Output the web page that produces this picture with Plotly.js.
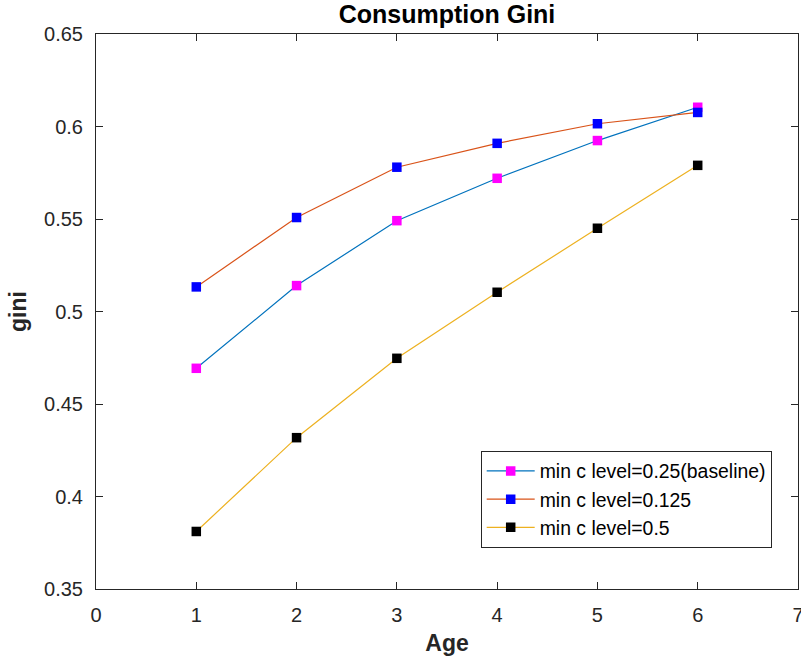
<!DOCTYPE html>
<html>
<head>
<meta charset="utf-8">
<script src="https://cdn.plot.ly/plotly-3.0.1.min.js"></script>
<style>
  html, body { margin: 0; padding: 0; background: #ffffff; }
  #chart { width: 801px; height: 663px; }
</style>
</head>
<body>
<div id="chart"></div>
<script>
// ages on the x axis
const ages = [1, 2, 3, 4, 5, 6];

// gini by age for each min consumption level
const giniBaseline = [0.4693, 0.5140, 0.5491, 0.5720, 0.5924, 0.6104];
const gini0125 = [0.5133, 0.5508, 0.5780, 0.5909, 0.6015, 0.6076];
const gini05 = [0.3811, 0.4318, 0.4747, 0.5104, 0.5450, 0.5790];

const seriesNames = ['min c level=0.25(baseline)', 'min c level=0.125', 'min c level=0.5'];

// tick labels
const xTicks = [0, 1, 2, 3, 4, 5, 6, 7];
const yTicks = [0.35, 0.4, 0.45, 0.5, 0.55, 0.6, 0.65];
const yTickText = ['0.35', '0.4', '0.45', '0.5', '0.55', '0.6', '0.65'];

const fontFamily = '"Liberation Sans", Arial, Helvetica, sans-serif';
const axisColor = '#262626';

function makeTrace(y, name, lineColor, markerColor) {
    return {
        x: ages,
        y: y,
        name: name,
        type: 'scatter',
        mode: 'lines+markers',
        line: { color: lineColor, width: 1.2 },
        marker: { symbol: 'square', size: 9.5, color: markerColor, line: { width: 0 } }
    };
}

const traces = [
    makeTrace(giniBaseline, seriesNames[0], '#0072BD', '#FF00FF'),
    makeTrace(gini0125, seriesNames[1], '#D95319', '#0000FF'),
    makeTrace(gini05, seriesNames[2], '#EDB120', '#000000')
];

const axisCommon = {
    showgrid: false,
    zeroline: false,
    showline: true,
    linecolor: axisColor,
    linewidth: 1,
    mirror: 'ticks',
    ticks: 'inside',
    ticklen: 7,
    tickwidth: 1,
    tickcolor: axisColor,
    ticklabeloverflow: 'allow',  // the "7" runs off the right edge, as in the original
    tickfont: { family: fontFamily, size: 20, color: axisColor }
};

const layout = {
    width: 801,
    height: 663,
    paper_bgcolor: '#ffffff',
    plot_bgcolor: '#ffffff',
    margin: { l: 96, r: 3, t: 34, b: 74 },
    font: { family: fontFamily, color: axisColor },
    title: {
        text: '<b>Consumption Gini</b>',
        font: { family: fontFamily, size: 25, color: '#000000' },
        x: 0.5,
        xanchor: 'center',
        xref: 'paper',
        y: 1 - 14 / 663,
        yanchor: 'middle',
        yref: 'container'
    },
    xaxis: Object.assign({}, axisCommon, {
        range: [0, 7],
        tickvals: xTicks,
        ticklabelstandoff: 8,
        title: { text: '<b>Age</b>', font: { family: fontFamily, size: 23, color: axisColor }, standoff: 9 }
    }),
    yaxis: Object.assign({}, axisCommon, {
        range: [0.35, 0.65],
        tickvals: yTicks,
        ticktext: yTickText,
        ticklabelstandoff: 8,
        title: { text: '<b>gini</b>', font: { family: fontFamily, size: 23, color: axisColor }, standoff: 11 }
    }),
    showlegend: true,
    legend: {
        x: 0.548,
        y: 0.249,
        xanchor: 'left',
        yanchor: 'top',
        bgcolor: '#ffffff',
        bordercolor: axisColor,
        borderwidth: 1,
        itemwidth: 48,
        font: { family: fontFamily, size: 19.4, color: '#000000' },
        tracegroupgap: 0
    }
};

Plotly.newPlot('chart', traces, layout, { displayModeBar: false, responsive: false });
</script>
</body>
</html>
